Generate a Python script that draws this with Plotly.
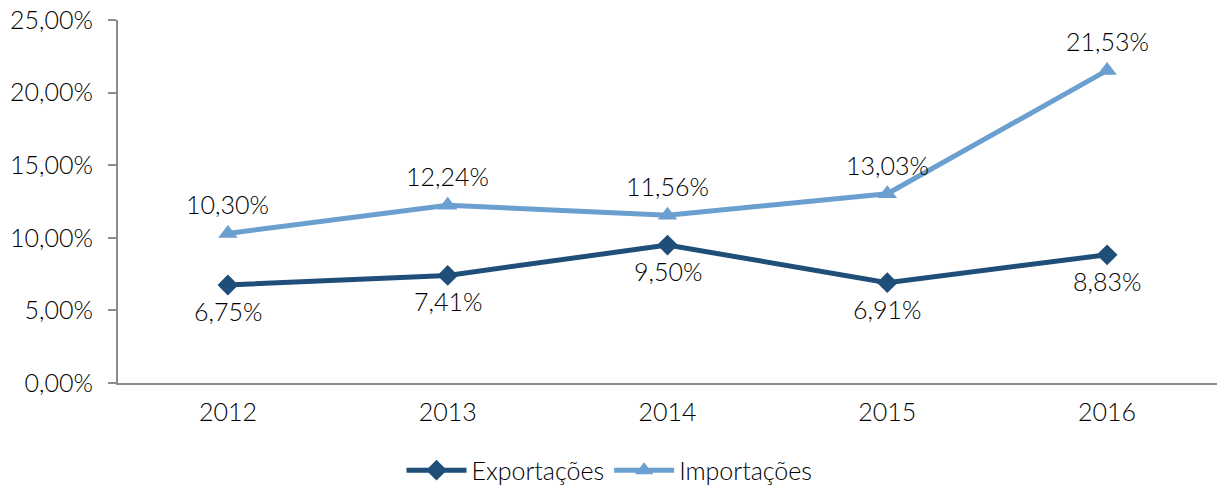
import plotly.graph_objects as go

anos = ["2012", "2013", "2014", "2015", "2016"]
exportacoes = [0.0675, 0.0741, 0.0950, 0.0691, 0.0883]
importacoes = [0.1030, 0.1224, 0.1156, 0.1303, 0.2153]
rot_exp = ["6,75%", "7,41%", "9,50%", "6,91%", "8,83%"]
rot_imp = ["10,30%", "12,24%", "11,56%", "13,03%", "21,53%"]

cor_exp = "#1F4E79"
cor_imp = "#6A9FCF"
fonte = "Lato, Noto Sans, sans-serif"
tam = 25

fig = go.Figure()
fig.add_trace(go.Scatter(
    x=anos, y=exportacoes, name="Exportações", mode="lines+markers",
    line=dict(color=cor_exp, width=5),
    marker=dict(symbol="diamond", size=16, color=cor_exp),
))
fig.add_trace(go.Scatter(
    x=anos, y=importacoes, name="Importações", mode="lines+markers",
    line=dict(color=cor_imp, width=5),
    marker=dict(symbol="triangle-up", size=17, color=cor_imp),
))

# rótulos de dados (x = índice da categoria, pois "2012" seria lido como número)
for i, (v, t) in enumerate(zip(exportacoes, rot_exp)):
    fig.add_annotation(x=i, y=v, text=t, showarrow=False, yshift=-26,
                       font=dict(size=tam, family=fonte, color="#000000", weight=300))
for i, (v, t) in enumerate(zip(importacoes, rot_imp)):
    fig.add_annotation(x=i, y=v, text=t, showarrow=False, yshift=29,
                       font=dict(size=tam, family=fonte, color="#000000", weight=300))

fig.update_layout(
    width=1219, height=490,
    margin=dict(l=118, r=2, t=20, b=107),
    paper_bgcolor="white", plot_bgcolor="white",
    separators=",.",
    font=dict(family=fonte, size=tam, color="#000000", weight=300),
    showlegend=True,
    legend=dict(orientation="h", x=0.5, xanchor="center", xref="container",
                y=0.04, yanchor="middle", yref="container",
                font=dict(size=tam, weight=300), itemwidth=60, tracegroupgap=0),
)
fig.update_xaxes(
    type="category", range=[-0.5, 4.5], automargin=False,
    showline=True, linecolor="#8C8C8C", linewidth=2,
    ticks="", showgrid=False, tickfont=dict(size=tam, weight=300), ticklabelstandoff=6,
)
fig.update_yaxes(
    range=[0, 0.25], dtick=0.05, tickformat=".2%", automargin=False,
    showline=True, linecolor="#8C8C8C", linewidth=2,
    ticks="outside", ticklen=8, tickcolor="#8C8C8C", tickwidth=2,
    showgrid=False, zeroline=False, tickfont=dict(size=tam, weight=300), ticklabelstandoff=10,
)

fig.write_html("out.html", config={"displayModeBar": False},
               post_script="document.body.style.margin='0';")
